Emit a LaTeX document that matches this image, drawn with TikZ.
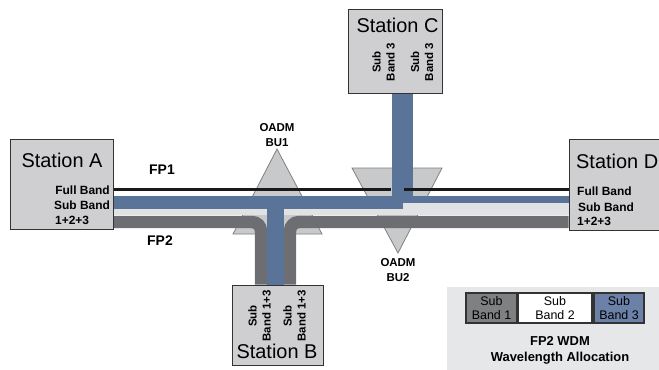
\documentclass[tikz,border=0pt]{standalone}
\usepackage{fontspec}
\setmainfont{Liberation Sans}
\usetikzlibrary{positioning,backgrounds}
\definecolor{bandblue}{HTML}{5A7499}
\definecolor{banddark}{HTML}{6D6E71}
\definecolor{bandlight}{HTML}{E1E2E4}
\definecolor{boxgray}{HTML}{CFCFD1}
\definecolor{trigray}{HTML}{C8C9CB}
\definecolor{legendbg}{HTML}{E6E7E8}
\definecolor{sbone}{HTML}{7F8082}
\definecolor{sbthree}{HTML}{6B81A8}

\begin{document}
\begin{tikzpicture}[x=1bp, y=-1bp,
  station/.style={draw=black!80, fill=boxgray, line width=1pt, inner sep=0pt},
  sttitle/.style={font=\fontsize{20}{22}\selectfont, inner sep=0pt},
  bandtxt/.style={font=\fontsize{12}{14}\selectfont\bfseries, inner sep=0pt},
  rottxt/.style={font=\fontsize{11.5}{14}\selectfont\bfseries, align=center, rotate=90, inner sep=0pt},
  fplabel/.style={font=\fontsize{14}{16}\selectfont\bfseries, inner sep=0pt},
  oadm/.style={font=\fontsize{11.5}{15}\selectfont\bfseries, align=center, inner sep=0pt},
  oadmtri/.style={fill=trigray, draw=black!50, line width=0.8pt},
  fiber/.style={draw=black!90, line width=3pt},
  lightband/.style={draw=bandlight, line width=12.5pt},
  darkband/.style={draw=banddark, line width=12.5pt, rounded corners=9bp},
  blueband/.style={draw=bandblue, line width=13pt},
  legbox/.style={draw=black!80, line width=1.2pt, minimum height=30bp, align=center,
    font=\fontsize{12.5}{14}\selectfont, inner sep=0pt}
]
\useasboundingbox (0,0) rectangle (659,369);

% stations
\node[station, minimum width=103bp, minimum height=90bp] (staA) at (61.5,184) {};
\node[station, minimum width=91bp, minimum height=80bp] (staB) at (277.5,325) {};
\node[station, minimum width=94bp, minimum height=84bp] (staC) at (395,51) {};
\node[station, minimum width=131bp, minimum height=91bp] (staD) at (634.5,184.5) {};

\node[sttitle] (titA) at (62,160.5) {Station A};
\node[sttitle] (titB) at (277,351.5) {Station B};
\node[sttitle] (titC) at (397.5,25) {Station C};
\node[sttitle, anchor=west] (titD) at (576,161) {Station D};

\node[bandtxt, anchor=east] (fullA) at (110,190.5) {Full Band};
\node[bandtxt, anchor=west] (subA) at (54,205) {Sub Band};
\node[bandtxt, anchor=west] (numA) at (55,220) {1+2+3};
\node[bandtxt, anchor=west] (fullD) at (577,191) {Full Band};
\node[bandtxt, anchor=west] (subD) at (578,207) {Sub Band};
\node[bandtxt, anchor=west] (numD) at (577,221.5) {1+2+3};

\node[rottxt] (subC1) at (383.5,62) {Sub\\Band 3};
\node[rottxt] (subC2) at (422,62) {Sub\\Band 3};
\node[rottxt] (subB1) at (259.5,316) {Sub\\Band 1+3};
\node[rottxt] (subB2) at (294.5,316) {Sub\\Band 1+3};

% levels and branch points
\coordinate (lvBlack) at (0,189.5);
\coordinate (lvBlue) at (0,202.5);
\coordinate (lvThin) at (0,199.5);
\coordinate (lvLight) at (0,209.25);
\coordinate (lvDark) at (0,222);
\coordinate (bu1L) at (261,0);
\coordinate (bu1R) at (290,0);
\coordinate (dropB) at (275.5,0);
\coordinate (upC) at (402.5,0);
\coordinate (bu2) at (403,0);
\coordinate (gapL) at (391,0);
\coordinate (gapR) at (404,0);

\begin{scope}[on background layer]
  % OADM units
  \draw[oadmtri] (277,149) -- (322,234) -- (233,234) -- cycle;
  \draw[oadmtri] (352,168) -- (442,168) -- (398,253) -- cycle;
  % FP2 bands
  \draw[lightband] (staA.east |- lvLight) -- (staD.west |- lvLight);
  \draw[darkband] (staA.east |- lvDark) -| (bu1L |- staB.north);
  \draw[darkband] (bu1R |- staB.north) |- (staD.west |- lvDark);
  \draw[blueband] (staA.east |- lvBlue) -- (bu2 |- lvBlue);
  \draw[blueband, line width=17pt] (dropB |- lvBlue) -- (dropB |- staB.north);
  \draw[blueband, line width=21pt] (upC |- staC.south) -- (upC |- lvBlue);
  \draw[blueband, line width=7pt] (bu2 |- lvThin) -- (staD.west |- lvThin);
  % FP1
  \draw[fiber] (staA.east |- lvBlack) -- (gapL |- lvBlack);
  \draw[fiber] (gapR |- lvBlack) -- (staD.west |- lvBlack);
\end{scope}

\node[oadm] (bu1) at (277,135.5) {OADM\\BU1};
\node[oadm] (bu2lab) at (398,270) {OADM\\BU2};
\node[fplabel] (fp1) at (162,170) {FP1};
\node[fplabel] (fp2) at (160,241) {FP2};

% legend
\node[fill=legendbg, minimum width=223bp, minimum height=93bp, inner sep=0pt] (legend) at (558.5,333.5) {};
\node[legbox, fill=sbone, minimum width=51bp] (sb1) at (491.5,308) {Sub\\Band 1};
\node[legbox, fill=white, minimum width=74bp] (sb2) at (555,308) {Sub\\Band 2};
\node[legbox, fill=sbthree, minimum width=50bp] (sb3) at (619,308) {Sub\\Band 3};
\node[font=\fontsize{13}{16}\selectfont\bfseries, align=center, inner sep=0pt] (legtitle) at (560,350) {FP2 WDM\\Wavelength Allocation};

\end{tikzpicture}
\end{document}
